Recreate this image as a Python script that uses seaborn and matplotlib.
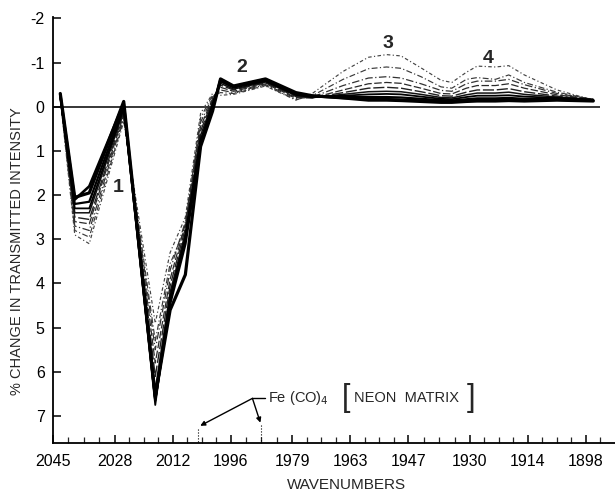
from pathlib import Path

import matplotlib

matplotlib.use("Agg")

import matplotlib.pyplot as plt
import numpy as np
import pandas as pd
import seaborn as sns


OUTPUT_PATH = Path("out.png")

# sampled wavenumbers (cm-1) shared by every scan
WAVENUMBERS = [2043, 2039, 2035, 2025.5, 2016.8, 2012.7, 2008.5, 2004.3, 2001, 1998.8,
               1995.2, 1986.4, 1978, 1973.5, 1965, 1958, 1953, 1949, 1943.5, 1938,
               1935, 1931, 1928, 1923, 1919.3, 1915, 1906, 1896]

# % change in transmitted intensity, one list per scan (first = heaviest line)
SCAN_A = [-0.30, 2.05, 1.95, -0.12, 6.55, 4.60, 3.80, 0.90, 0.10, -0.63, -0.47, -0.63, -0.32, -0.25,
          -0.20, -0.15, -0.15, -0.14, -0.12, -0.10, -0.10, -0.12, -0.13, -0.13, -0.14, -0.13, -0.15, -0.13]
SCAN_B = [-0.28, 2.10, 1.80, -0.08, 6.60, 4.45, 3.10, 0.85, 0.05, -0.62, -0.46, -0.62, -0.30, -0.24,
          -0.20, -0.17, -0.17, -0.16, -0.14, -0.12, -0.12, -0.14, -0.15, -0.15, -0.16, -0.15, -0.16, -0.14]
SCAN_C = [-0.26, 2.20, 2.15, -0.02, 6.65, 4.40, 3.00, 0.80, 0.00, -0.60, -0.45, -0.60, -0.29, -0.23,
          -0.22, -0.22, -0.22, -0.21, -0.18, -0.15, -0.14, -0.17, -0.19, -0.19, -0.20, -0.18, -0.18, -0.15]
SCAN_D = [-0.25, 2.30, 2.30, 0.03, 6.75, 4.30, 2.95, 0.75, -0.05, -0.57, -0.43, -0.58, -0.27, -0.22,
          -0.25, -0.28, -0.29, -0.28, -0.23, -0.18, -0.17, -0.22, -0.25, -0.25, -0.26, -0.23, -0.20, -0.16]
SCAN_E = [-0.24, 2.40, 2.40, 0.08, 6.40, 4.20, 2.85, 0.65, -0.10, -0.53, -0.40, -0.56, -0.25, -0.21,
          -0.28, -0.34, -0.35, -0.34, -0.28, -0.21, -0.20, -0.27, -0.31, -0.31, -0.33, -0.28, -0.22, -0.16]
SCAN_F = [-0.23, 2.50, 2.55, 0.13, 6.10, 4.05, 2.75, 0.55, -0.15, -0.49, -0.38, -0.54, -0.23, -0.20,
          -0.32, -0.42, -0.44, -0.42, -0.34, -0.25, -0.24, -0.33, -0.38, -0.38, -0.41, -0.34, -0.24, -0.17]
SCAN_G = [-0.22, 2.60, 2.65, 0.18, 5.80, 3.90, 2.65, 0.45, -0.18, -0.44, -0.35, -0.52, -0.21, -0.20,
          -0.38, -0.52, -0.55, -0.53, -0.42, -0.30, -0.29, -0.42, -0.48, -0.48, -0.52, -0.42, -0.27, -0.17]
SCAN_H = [-0.21, 2.70, 2.80, 0.23, 5.50, 3.70, 2.60, 0.35, -0.22, -0.38, -0.32, -0.50, -0.19, -0.22,
          -0.48, -0.65, -0.68, -0.65, -0.52, -0.37, -0.35, -0.52, -0.58, -0.58, -0.62, -0.50, -0.30, -0.17]
SCAN_I = [-0.20, 2.80, 2.95, 0.28, 5.30, 3.55, 2.75, 0.25, -0.26, -0.32, -0.30, -0.48, -0.16, -0.25,
          -0.62, -0.86, -0.90, -0.87, -0.68, -0.45, -0.42, -0.62, -0.66, -0.62, -0.72, -0.55, -0.33, -0.16]
SCAN_J = [-0.20, 2.90, 3.10, 0.33, 4.90, 3.30, 2.50, 0.15, -0.30, -0.26, -0.28, -0.47, -0.15, -0.30,
          -0.80, -1.12, -1.18, -1.15, -0.88, -0.60, -0.55, -0.78, -0.92, -0.90, -0.93, -0.72, -0.38, -0.15]

SCANS = [SCAN_A, SCAN_B, SCAN_C, SCAN_D, SCAN_E, SCAN_F, SCAN_G, SCAN_H, SCAN_I, SCAN_J]

X_TICKS = [2045, 2028, 2012, 1996, 1979, 1963, 1947, 1930, 1914, 1898]
Y_TICKS = [-2, -1, 0, 1, 2, 3, 4, 5, 6, 7]

BAND_LABELS = ["1", "2", "3", "4"]
BAND_X = [2027.0, 1993.0, 1952.7, 1925.0]
BAND_Y = [1.83, -0.88, -1.43, -1.10]


def main() -> None:
    rows = []
    for i, scan in enumerate(SCANS):
        for w, v in zip(WAVENUMBERS, scan):
            rows.append({"scan": i, "wavenumber": w, "change": v})
    spectra = pd.DataFrame(rows)

    sns.set_theme(style="ticks")
    plt.rcParams["font.family"] = ["Liberation Sans", "DejaVu Sans"]
    plt.rcParams["axes.unicode_minus"] = False

    fig = plt.figure(figsize=(6.15, 4.93), dpi=100)
    ax = fig.add_axes([0.0862, 0.1014, 0.9138, 0.864])

    styles = [
        ("black", 2.3, (None, None)),
        ("black", 1.9, (None, None)),
        ("black", 1.6, (None, None)),
        ("black", 1.3, (None, None)),
        ("#111111", 1.1, (None, None)),
        ("#222222", 1.0, (8, 2)),
        ("#2a2a2a", 0.9, (6, 2)),
        ("#333333", 0.9, (6, 2, 1, 2)),
        ("#3a3a3a", 0.85, (5, 2, 1, 2)),
        ("#444444", 0.85, (3, 2, 1, 2)),
    ]

    ax.hlines(0, 2045, 1894, color="black", lw=1.1, zorder=1)

    for i in reversed(range(len(SCANS))):
        color, lw, dash = styles[i]
        subset = spectra[spectra["scan"] == i]
        line = sns.lineplot(
            data=subset, x="wavenumber", y="change", ax=ax,
            color=color, lw=lw, estimator=None, sort=False, legend=False,
        ).lines[-1]
        if dash[0] is not None:
            line.set_dashes(dash)

    for label, x, y in zip(BAND_LABELS, BAND_X, BAND_Y):
        ax.text(x, y, label, fontsize=14, fontweight="bold", ha="center", va="center")

    # Fe(CO)4 label with pointers to the axis
    ax.plot([1990, 1986.5], [6.6, 6.6], color="black", lw=1)
    for tx, ty in [(2004.4, 7.22), (1987.8, 7.15)]:
        ax.annotate("", xy=(tx, ty), xytext=(1990, 6.6),
                    arrowprops=dict(arrowstyle="-|>", color="black", lw=1,
                                    mutation_scale=7, shrinkA=0, shrinkB=0))
    ax.vlines([2005.0, 1987.5], [7.3, 7.2], [7.6, 7.6], color="black", lw=0.8,
              linestyles=":")
    ax.text(1985.6, 6.6, r"Fe (CO)$_4$", fontsize=10.5, ha="left", va="center")
    ax.text(1965.2, 6.6, "[", fontsize=22, fontweight="light", ha="left", va="center")
    ax.text(1962.0, 6.6, "NEON  MATRIX", fontsize=10.5, ha="left", va="center")
    ax.text(1930.8, 6.6, "]", fontsize=22, fontweight="light", ha="left", va="center")

    ax.set_xlim(2045, 1890)
    ax.set_ylim(7.61, -2.03)
    ax.set_xticks(X_TICKS)
    ax.set_xticklabels([str(t) for t in X_TICKS])
    ax.set_yticks(Y_TICKS)
    ax.set_yticklabels([str(t) for t in Y_TICKS])
    minor = []
    for a, b in zip(X_TICKS[:-1], X_TICKS[1:]):
        minor.extend(np.linspace(a, b, 5)[1:-1])
    minor.extend([1894])
    ax.set_xticks(minor, minor=True)

    ax.tick_params(axis="both", direction="in", length=6, width=1.1,
                   labelsize=11.5, colors="black")
    ax.tick_params(axis="x", pad=8)
    ax.tick_params(axis="x", which="minor", direction="in", length=4, width=0.9)
    ax.tick_params(axis="y", pad=6)

    sns.despine(ax=ax)
    for side in ["left", "bottom"]:
        ax.spines[side].set_linewidth(1.3)
        ax.spines[side].set_color("black")

    ax.set_xlabel("WAVENUMBERS", fontsize=11)
    ax.set_ylabel("% CHANGE IN TRANSMITTED INTENSITY", fontsize=10.5)
    ax.xaxis.set_label_coords(0.523, -0.083)
    ax.yaxis.set_label_coords(-0.052, 0.45)

    fig.savefig(OUTPUT_PATH, dpi=100)
    print(f"Saved chart to: {OUTPUT_PATH.resolve()}")


if __name__ == "__main__":
    main()
